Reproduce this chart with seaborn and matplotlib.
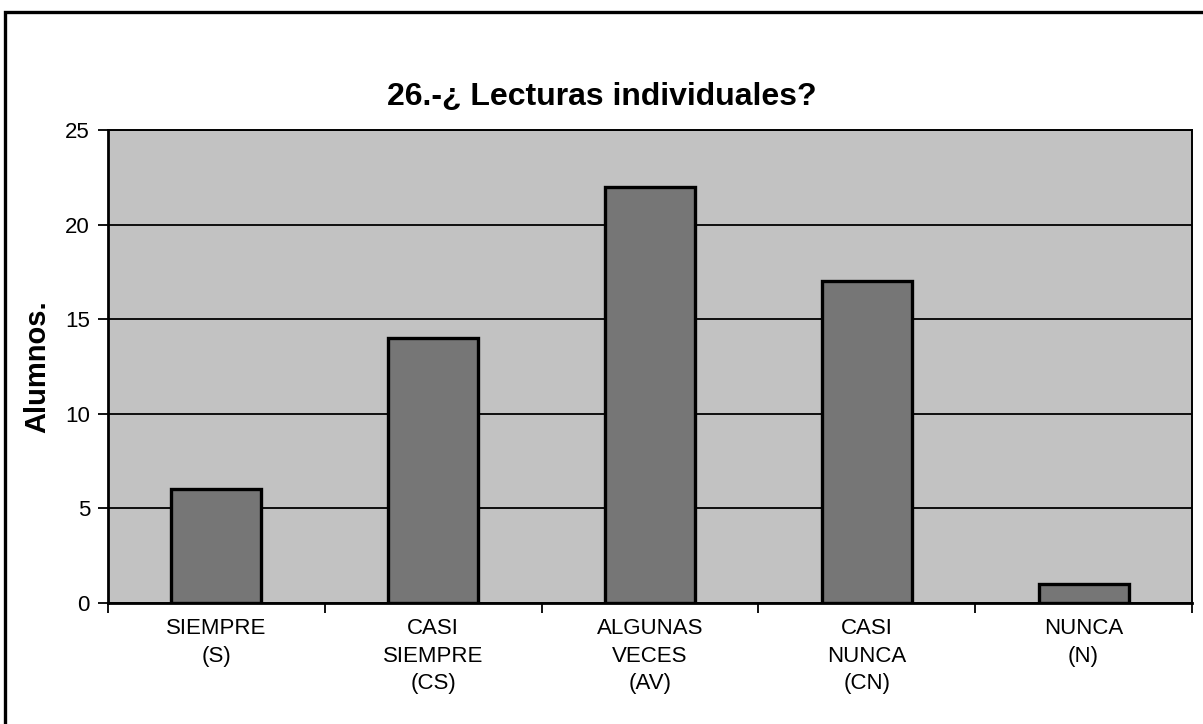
import matplotlib
matplotlib.use("Agg")
import matplotlib.pyplot as plt
import seaborn as sns
import pandas as pd
from matplotlib.patches import Rectangle

categories = ["SIEMPRE\n(S)", "CASI\nSIEMPRE\n(CS)", "ALGUNAS\nVECES\n(AV)", "CASI\nNUNCA\n(CN)", "NUNCA\n(N)"]
alumnos = [6, 14, 22, 17, 1]
y_ticks = [0, 5, 10, 15, 20, 25]

sns.set_theme(style="white")
plt.rcParams["font.family"] = ["Liberation Sans", "DejaVu Sans"]
plt.rcParams["text.color"] = "black"
plt.rcParams["axes.labelcolor"] = "black"
plt.rcParams["xtick.color"] = "black"
plt.rcParams["ytick.color"] = "black"

df = pd.DataFrame({"categoria": categories, "alumnos": alumnos})

W, H = 1203, 724
fig = plt.figure(figsize=(W / 100, H / 100), dpi=100)
left, right, top, bottom = 108, 1192, 130, 603
ax = fig.add_axes([left / W, 1 - bottom / H, (right - left) / W, (bottom - top) / H])
ax.set_facecolor("#c2c2c2")

sns.barplot(data=df, x="categoria", y="alumnos", color="#767676", width=0.415,
            edgecolor="black", linewidth=2.4, saturation=1, ax=ax, zorder=3)

ax.set_ylim(0, 25)
ax.set_xlim(-0.5, len(categories) - 0.5)
ax.set_yticks(y_ticks)
ax.set_yticklabels([str(t) for t in y_ticks], fontsize=16)
ax.yaxis.grid(True, color="black", linewidth=1.3, zorder=1)
ax.set_axisbelow(True)

# category labels centred, tick marks on the boundaries between categories
ax.set_xticks(range(len(categories)))
ax.set_xticklabels(categories, fontsize=16, linespacing=1.4, va="top")
ax.tick_params(axis="x", which="major", length=0, pad=11)
ax.set_xticks([i + 0.5 for i in range(-1, len(categories))], minor=True)
ax.tick_params(axis="x", which="minor", length=7, width=1.3, color="black", direction="out", bottom=True)
ax.tick_params(axis="y", length=7, width=1.3, color="black", direction="out", left=True, pad=6)

for side, spine in ax.spines.items():
    spine.set_visible(True)
    spine.set_color("black")
    spine.set_linewidth(2.0 if side in ("left", "bottom") else 1.4)

ax.set_xlabel("")
ax.set_ylabel("Alumnos.", fontsize=21, fontweight="bold", labelpad=10)

fig.text(0.5, 1 - 97 / H, "26.-¿ Lecturas individuales?", ha="center", va="center",
         fontsize=23, fontweight="bold")

# outer chart frame (runs off the right and bottom of the canvas)
fig.patches.append(Rectangle((5 / W, -20 / H), 1220 / W, (H - 12 + 20) / H,
                             transform=fig.transFigure, fill=False,
                             edgecolor="black", linewidth=2.4, clip_on=False))

fig.savefig("out.png", dpi=100, facecolor="white")
